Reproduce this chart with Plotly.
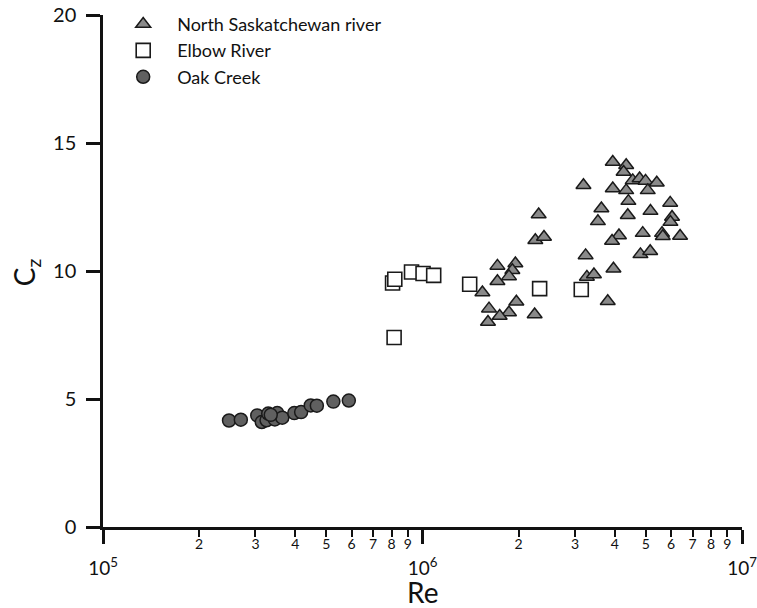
import plotly.graph_objects as go

# North Saskatchewan river (triangles)
ns_re = [2.255e6, 2.40e6, 2.31e6, 1.716e6, 1.953e6, 1.911e6, 1.865e6, 1.716e6, 1.540e6,
         1.967e6, 1.615e6, 1.865e6, 1.744e6, 1.603e6, 2.244e6,
         3.94e6, 4.34e6, 4.26e6, 3.19e6, 3.94e6, 4.55e6, 4.78e6, 4.99e6, 5.41e6, 4.34e6,
         5.07e6, 4.41e6, 3.63e6, 5.96e6, 5.17e6, 4.39e6, 3.54e6, 6.04e6, 5.97e6, 4.12e6,
         3.92e6, 4.89e6, 5.62e6, 5.65e6, 6.40e6, 3.24e6, 4.81e6, 5.16e6, 3.96e6, 3.27e6,
         3.44e6, 3.80e6]
ns_cz = [11.20, 11.33, 12.21, 10.20, 10.29, 10.03, 9.79, 9.60, 9.16,
         8.80, 8.53, 8.38, 8.24, 8.01, 8.30,
         14.26, 14.13, 13.87, 13.35, 13.22, 13.54, 13.61, 13.52, 13.45, 13.15,
         13.15, 12.73, 12.44, 12.66, 12.34, 12.18, 11.94, 12.11, 11.91, 11.39,
         11.17, 11.48, 11.48, 11.36, 11.37, 10.61, 10.65, 10.77, 10.09, 9.77,
         9.86, 8.82]

# Elbow River (squares)
eb_re = [8.06e5, 8.19e5, 9.24e5, 1.004e6, 1.084e6, 1.405e6, 2.326e6, 8.15e5, 3.14e6]
eb_cz = [9.53, 9.68, 9.96, 9.90, 9.83, 9.48, 9.31, 7.40, 9.28]

# Oak Creek (circles)
oc_re = [2.48e5, 2.70e5, 3.04e5, 3.14e5, 3.25e5, 3.29e5, 3.45e5, 3.51e5, 3.64e5,
         3.97e5, 4.17e5, 4.47e5, 4.67e5, 5.26e5, 5.88e5, 3.35e5]
oc_cz = [4.16, 4.19, 4.36, 4.10, 4.17, 4.43, 4.20, 4.45, 4.27,
         4.45, 4.49, 4.75, 4.74, 4.90, 4.94, 4.38]

major_vals = [1e5, 1e6, 1e7]
major_text = ["10<sup>5</sup>", "10<sup>6</sup>", "10<sup>7</sup>"]
minor_vals = [d * 1e5 for d in range(2, 10)] + [d * 1e6 for d in range(2, 10)]
minor_text = [str(d) for d in range(2, 10)] * 2
y_ticks = [0, 5, 10, 15, 20]

FONT = "Lato"
EDGE = "#1a1a1a"
INK = "#111"

fig = go.Figure()
fig.add_trace(go.Scatter(
    x=ns_re, y=ns_cz, mode="markers", name="North Saskatchewan river",
    marker=dict(symbol="triangle-up", size=13, color="#8a8a8a",
                line=dict(color=EDGE, width=1.5))))
fig.add_trace(go.Scatter(
    x=eb_re, y=eb_cz, mode="markers", name="Elbow River",
    marker=dict(symbol="square", size=14, color="white",
                line=dict(color=EDGE, width=1.6))))
fig.add_trace(go.Scatter(
    x=oc_re, y=oc_cz, mode="markers", name="Oak Creek",
    marker=dict(symbol="circle", size=13, color="#606060",
                line=dict(color=EDGE, width=1.5))))

# invisible trace on the overlay axis so its minor-digit labels render
fig.add_trace(go.Scatter(x=[1e5], y=[0], xaxis="x2", mode="markers",
                         marker=dict(opacity=0), showlegend=False, hoverinfo="skip"))

fig.update_layout(
    width=757, height=608,
    margin=dict(l=103, r=15, t=15, b=81, autoexpand=False),
    paper_bgcolor="white", plot_bgcolor="white",
    font=dict(family=FONT, color=INK),
    showlegend=True,
    legend=dict(x=0.0097, y=1.018, xanchor="left", yanchor="top",
                font=dict(size=18, family=FONT), bgcolor="rgba(0,0,0,0)",
                itemwidth=58),
    xaxis=dict(type="log", range=[5, 7], tickmode="array",
               tickvals=major_vals, ticktext=major_text,
               ticks="outside", ticklen=14, tickwidth=2.5, tickcolor=INK,
               showline=True, linewidth=2.5, linecolor=INK,
               showgrid=False, zeroline=False, automargin=False,
               ticklabeloverflow="allow",
               tickfont=dict(size=19, family=FONT),
               ticklabelstandoff=8,
               minor=dict(tickmode="array", tickvals=minor_vals, ticks="outside",
                          ticklen=7, tickwidth=2, tickcolor=INK, showgrid=False)),
    xaxis2=dict(type="log", range=[5, 7], overlaying="x", anchor="y", side="bottom",
                tickmode="array", tickvals=minor_vals, ticktext=minor_text,
                ticks="", showline=False, showgrid=False, zeroline=False,
                automargin=False, ticklabeloverflow="allow",
                tickfont=dict(size=14, family=FONT), ticklabelstandoff=7),
    yaxis=dict(range=[0, 20], tickmode="array", tickvals=y_ticks,
               ticks="outside", ticklen=14, tickwidth=2.5, tickcolor=INK,
               showline=True, linewidth=2.5, linecolor=INK,
               showgrid=False, zeroline=False, automargin=False,
               tickfont=dict(size=20, family=FONT), ticklabelstandoff=6),
    annotations=[
        dict(text="Re", xref="paper", yref="paper", x=0.5, y=0,
             xanchor="center", yanchor="middle", yshift=-65, showarrow=False,
             font=dict(size=28, family=FONT, color=INK)),
        dict(text="C<sub>z</sub>", xref="paper", yref="paper", x=0,
             y=(526.7 - 272) / 511.7, xanchor="center", yanchor="middle",
             xshift=-77, textangle=-90, showarrow=False,
             font=dict(size=28, family=FONT, color=INK)),
    ],
)

fig.write_html("out.html", config={"displayModeBar": False},
               post_script="document.body.style.margin='0';document.body.style.overflow='hidden';")
